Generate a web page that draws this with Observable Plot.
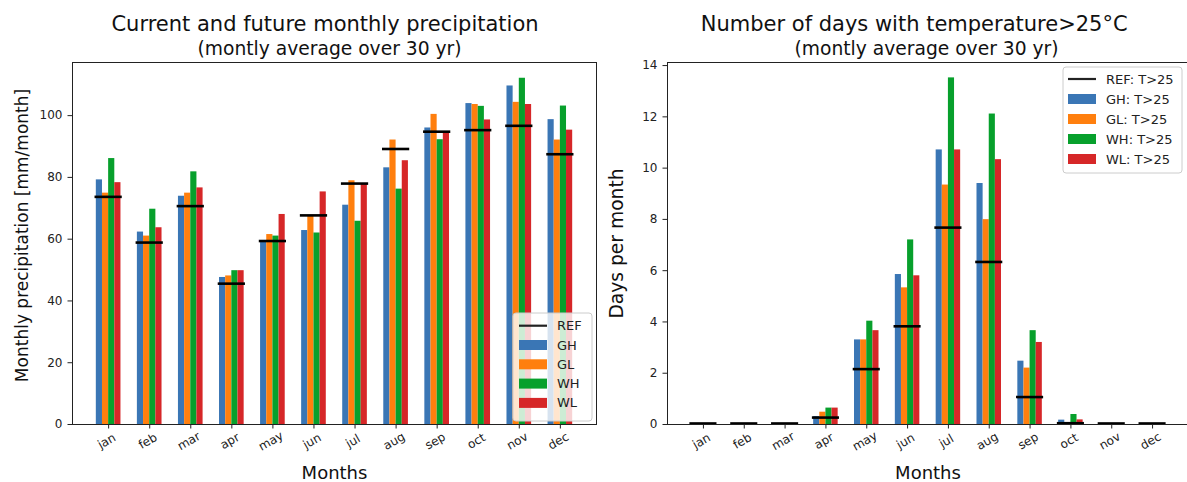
<!DOCTYPE html>
<html>
<head>
<meta charset="utf-8">
<script src="https://cdn.jsdelivr.net/npm/d3@7"></script>
<script src="https://cdn.jsdelivr.net/npm/@observablehq/plot@0.6"></script>
<style>
  body { margin: 0; background: #fff; }
  #wrap { position: relative; width: 1187px; height: 482px; overflow: hidden; font-family: "DejaVu Sans", sans-serif; }
  #left { position: absolute; left: 0; top: 0; width: 600px; }
  #right { position: absolute; left: 595px; top: 0; width: 600px; }
  #wrap svg { max-width: none !important; }
</style>
</head>
<body>
<div id="wrap"><div id="left"></div><div id="right"></div></div>
<script>
// Month labels (x axis)
const months = ["jan", "feb", "mar", "apr", "may", "jun", "jul", "aug", "sep", "oct", "nov", "dec"];

// Scenario names and colours
const scenarios = ["GH", "GL", "WH", "WL"];
const scenarioColors = ["#3a76b5", "#ff7f0e", "#07a02c", "#d62728"];

// Monthly precipitation [mm/month], 30-yr monthly average
const precipREF = [73.7, 58.9, 70.7, 45.6, 59.4, 67.7, 78.0, 89.2, 94.8, 95.3, 96.7, 87.5];
const precipGH  = [79.2, 62.3, 73.9, 47.6, 59.5, 62.8, 71.0, 83.1, 96.0, 103.9, 109.6, 98.7];
const precipGL  = [74.9, 61.0, 74.9, 48.1, 61.5, 67.7, 78.9, 92.1, 100.4, 103.6, 104.3, 92.1];
const precipWH  = [86.1, 69.7, 81.8, 49.8, 61.0, 62.0, 65.8, 76.2, 92.2, 103.0, 112.1, 103.1];
const precipWL  = [78.3, 63.7, 76.6, 49.8, 68.0, 75.3, 78.0, 85.4, 94.7, 98.6, 103.6, 95.3];

// Days per month with T > 25 °C, 30-yr monthly average
const hotREF = [0.04, 0.04, 0.04, 0.27, 2.16, 3.83, 7.68, 6.34, 1.07, 0.05, 0.04, 0.04];
const hotGH  = [0, 0, 0, 0.31, 3.30, 5.85, 10.71, 9.40, 2.47, 0.17, 0, 0];
const hotGL  = [0, 0, 0, 0.48, 3.30, 5.33, 9.34, 7.99, 2.20, 0.03, 0, 0];
const hotWH  = [0, 0, 0, 0.64, 4.03, 7.20, 13.52, 12.11, 3.66, 0.39, 0, 0];
const hotWL  = [0, 0, 0, 0.64, 3.66, 5.80, 10.71, 10.33, 3.20, 0.18, 0, 0];

// Y tick values
const precipTicks = [0, 20, 40, 60, 80, 100];
const hotTicks = [0, 2, 4, 6, 8, 10, 12, 14];

const BAR_W = 0.15;   // width of one bar, in month units
const GROUP_HALF = 0.3;

function groupedChart(o) {
  const bars = scenarios.flatMap((s, k) =>
    o.series[k].map((v, i) => ({i, k, s, v})));
  const ref = o.ref.map((v, i) => ({i, v}));

  const svg = Plot.plot({
    width: 600,
    height: 482,
    marginLeft: 72,
    marginRight: o.marginRight,
    marginTop: 62,
    marginBottom: 58,
    style: {fontFamily: "DejaVu Sans, sans-serif", fontSize: "12px", color: "#222", background: "transparent", overflow: "visible"},
    x: {domain: [-0.88, 11.88]},
    y: {domain: [0, o.yMax]},
    color: {domain: scenarios, range: scenarioColors},
    marks: [
      Plot.rect(bars, {
        x1: d => d.i - GROUP_HALF + BAR_W * d.k,
        x2: d => d.i - GROUP_HALF + BAR_W * (d.k + 1),
        y1: () => 0,
        y2: "v",
        fill: "s"
      }),
      Plot.ruleY(ref, {
        x1: d => d.i - GROUP_HALF,
        x2: d => d.i + GROUP_HALF,
        y: "v",
        stroke: "#000",
        strokeWidth: 2.6,
        strokeLinecap: "square"
      }),
      Plot.frame({stroke: "#222", strokeWidth: 1}),
      Plot.axisX({ticks: d3.range(months.length), tickSize: 4.5, tickFormat: () => "", label: null, stroke: "#222"}),
      Plot.text(months, {
        x: (d, i) => i, text: d => d, frameAnchor: "bottom",
        dy: 20, rotate: -30, textAnchor: "middle", fontSize: 12, fill: "#222"
      }),
      Plot.axisY({ticks: o.yTicks, tickSize: 4.5, tickPadding: 5.5, label: null, fontSize: 12, stroke: "#222", fill: "#222"}),
      // titles
      Plot.text([o.title], {text: d => d, frameAnchor: "top", textAnchor: "middle", dx: o.titleDx, dy: -31.5, lineAnchor: "bottom", fontSize: 21, fill: "#111"}),
      Plot.text(["(montly average over 30 yr)"], {text: d => d, frameAnchor: "top", textAnchor: "middle", dx: o.subDx, dy: -8, lineAnchor: "bottom", fontSize: 18.7, fill: "#111"}),
      // axis labels
      Plot.text(["Months"], {text: d => d, frameAnchor: "bottom", textAnchor: "middle", dy: 54, lineAnchor: "bottom", fontSize: 18, fill: "#111"}),
      Plot.text([o.ylabel], {text: d => d, frameAnchor: "left", textAnchor: "middle", dx: -50.3, dy: o.ylabelDy, rotate: -90, lineAnchor: "middle", fontSize: o.ylabelSize, fill: "#111"})
    ]
  });

  // legend box
  const L = o.legend;
  const g = d3.select(svg).append("g")
    .attr("font-family", "DejaVu Sans, sans-serif")
    .attr("font-size", 13)
    .attr("text-anchor", "start");
  g.append("rect")
    .attr("x", L.x).attr("y", L.y).attr("width", L.w).attr("height", L.h)
    .attr("rx", 3).attr("fill", "#fff").attr("fill-opacity", 0.8)
    .attr("stroke", "#ccc").attr("stroke-width", 1);
  const labels = ["REF", ...scenarios].map(s => s + L.suffix);
  labels.forEach((lab, j) => {
    const cy = L.y0 + j * L.step;
    if (j === 0) {
      g.append("line").attr("x1", L.px).attr("x2", L.px + 28).attr("y1", cy).attr("y2", cy)
        .attr("stroke", "#222").attr("stroke-width", 2.2);
    } else {
      g.append("rect").attr("x", L.px).attr("y", cy - 5).attr("width", 28).attr("height", 10)
        .attr("fill", scenarioColors[j - 1]);
    }
    g.append("text").attr("x", L.px + 38).attr("y", cy).attr("dy", "0.35em")
      .attr("text-anchor", "start").attr("fill", "#222").text(lab);
  });
  return svg;
}

document.getElementById("left").append(groupedChart({
  series: [precipGH, precipGL, precipWH, precipWL],
  ref: precipREF,
  yMax: 117.2,
  yTicks: precipTicks,
  marginRight: 4,
  title: "Current and future monthly precipitation",
  titleDx: -9.5,
  subDx: -5,
  ylabel: "Monthly precipitation [mm/month]",
  ylabelSize: 17,
  ylabelDy: -8,
  legend: {x: 513, y: 313, w: 79, h: 108, px: 519, y0: 325.7, step: 19.3, suffix: ""}
}));

document.getElementById("right").append(groupedChart({
  series: [hotGH, hotGL, hotWH, hotWL],
  ref: hotREF,
  yMax: 14.12,
  yTicks: hotTicks,
  marginRight: 7,
  title: "Number of days with temperature>25°C",
  titleDx: -13.8,
  subDx: -1.5,
  ylabel: "Days per month",
  ylabelSize: 18.7,
  ylabelDy: 0,
  legend: {x: 1063 - 595, y: 67, w: 119, h: 106, px: 1068 - 595, y0: 79, step: 20, suffix: ": T>25"}
}));
</script>
</body>
</html>
